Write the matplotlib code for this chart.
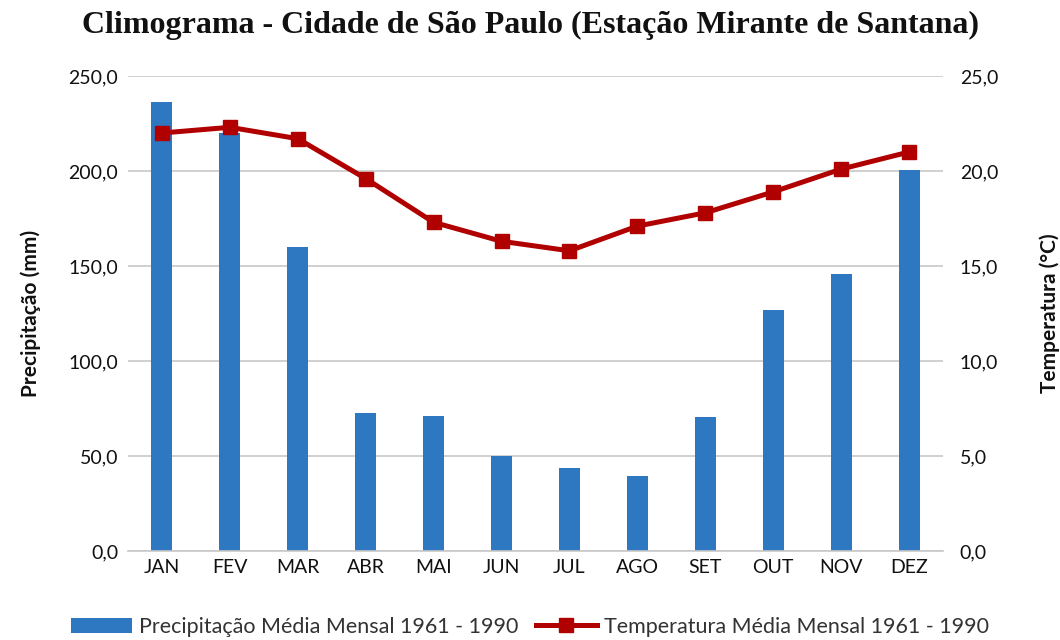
import matplotlib
matplotlib.use("Agg")
import matplotlib.pyplot as plt
from matplotlib.ticker import FuncFormatter, MultipleLocator

meses = ["JAN", "FEV", "MAR", "ABR", "MAI", "JUN", "JUL", "AGO", "SET", "OUT", "NOV", "DEZ"]
precipitacao = [236.5, 220.0, 160.2, 72.6, 71.2, 50.0, 43.9, 39.5, 70.6, 126.8, 145.8, 200.5]
temperatura = [22.0, 22.3, 21.7, 19.6, 17.3, 16.3, 15.8, 17.1, 17.8, 18.9, 20.1, 21.0]

titulo = "Climograma - Cidade de São Paulo (Estação Mirante de Santana)"
rotulo_prec = "Precipitação (mm)"
rotulo_temp = "Temperatura (°C)"
leg_prec = "Precipitação Média Mensal 1961 - 1990"
leg_temp = "Temperatura Média Mensal 1961 - 1990"

BLUE = "#2E78C2"
RED = "#B00000"
GRID = "#C8C8C8"
TXT = "#111111"

plt.rcParams['font.family'] = ['Lato', 'DejaVu Sans']

fig = plt.figure(figsize=(10.6, 6.4), dpi=100)
ax = fig.add_axes([128/1060, 1-551/640, (943-128)/1060, (551-76)/640])
ax2 = ax.twinx()

x = list(range(len(meses)))
b = ax.bar(x, precipitacao, width=0.31, color=BLUE, zorder=2, label=leg_prec)
l, = ax2.plot(x, temperatura, color=RED, lw=3.6, marker='s', markersize=10,
              zorder=3, label=leg_temp)

ax.set_xlim(-0.5, len(meses)-0.5)
ax.set_ylim(0, 250)
ax2.set_ylim(0, 25)
ax.yaxis.set_major_locator(MultipleLocator(50))
ax2.yaxis.set_major_locator(MultipleLocator(5))
fmt = FuncFormatter(lambda v, p: f"{v:.1f}".replace(".", ","))
ax.yaxis.set_major_formatter(fmt)
ax2.yaxis.set_major_formatter(fmt)
ax.set_xticks(x)
ax.set_xticklabels(meses)

ax.grid(axis='y', color=GRID, lw=1.2, zorder=0)
ax.set_axisbelow(True)
for a in (ax, ax2):
    for s in a.spines.values():
        s.set_visible(False)
ax.spines['bottom'].set_visible(True)
ax.spines['bottom'].set_color(GRID)
ax.spines['bottom'].set_linewidth(1.2)

ax.tick_params(axis='y', length=0, pad=7, labelsize=14, colors=TXT)
ax2.tick_params(axis='y', length=0, pad=12, labelsize=14, colors=TXT)
ax.tick_params(axis='x', length=0, pad=6, labelsize=14, colors=TXT)

ax.set_ylabel(rotulo_prec, fontsize=15, fontweight='bold', labelpad=20, color=TXT)
ax2.set_ylabel(rotulo_temp, fontsize=15, fontweight='bold', labelpad=30, color=TXT)

fig.text(0.5, 1-25/640, titulo, ha='center', va='center', fontsize=23,
         fontweight='bold', family='Liberation Serif', color=TXT)

fig.legend([b, l], [leg_prec, leg_temp], loc='center', bbox_to_anchor=(0.5, 1-627/640),
           ncol=2, frameon=False, fontsize=15.5, handlelength=2.8, handletextpad=0.33,
           columnspacing=0.85, labelcolor='#333333')

fig.savefig("out.png", dpi=100)
